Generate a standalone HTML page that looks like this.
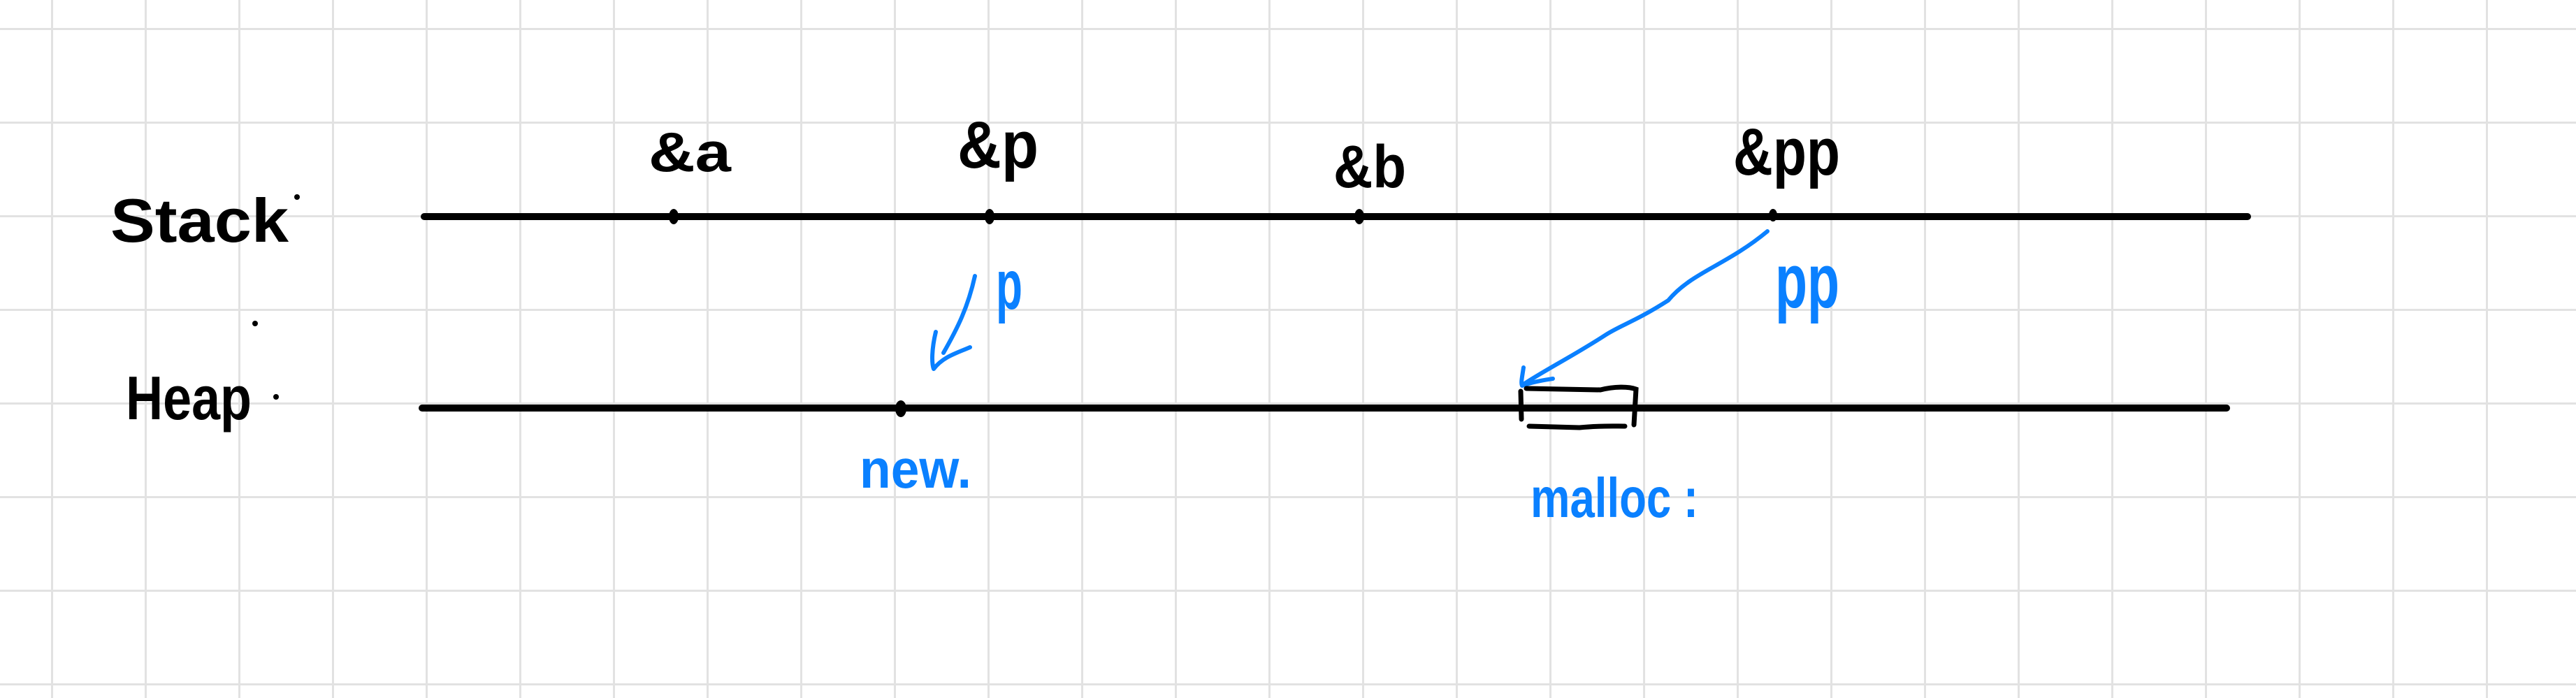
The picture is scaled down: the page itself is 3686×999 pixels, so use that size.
<!DOCTYPE html>
<html><head><meta charset="utf-8"><style>
html,body{margin:0;padding:0;background:#fff;}
svg{display:block;}
text{font-family:"Liberation Sans",sans-serif;font-weight:bold;}
</style></head><body>
<svg width="3686" height="999" viewBox="0 0 3686 999">
<g id="grid" stroke="#e2e2e2" stroke-width="3"></g>
<script>
var g=document.getElementById('grid');
for(var x=74.5;x<3686;x+=134){var l=document.createElementNS('http://www.w3.org/2000/svg','line');l.setAttribute('x1',x);l.setAttribute('x2',x);l.setAttribute('y1',0);l.setAttribute('y2',999);


g.appendChild(l);}
for(var y=41.5;y<999;y+=134){var l=document.createElementNS('http://www.w3.org/2000/svg','line');l.setAttribute('y1',y);l.setAttribute('y2',y);l.setAttribute('x1',0);l.setAttribute('x2',3686);


g.appendChild(l);}
</script>
<text x="158" y="346" font-size="88" textLength="255" lengthAdjust="spacingAndGlyphs">Stack</text>
<circle cx="425" cy="282" r="4" fill="#000"/>
<text x="180" y="600" font-size="88" textLength="180" lengthAdjust="spacingAndGlyphs">Heap</text>
<circle cx="365" cy="463" r="4" fill="#000"/>
<circle cx="395" cy="568" r="4" fill="#000"/>
<line x1="607" y1="310" x2="3216" y2="310" stroke="#000" stroke-width="10" stroke-linecap="round"/>
<line x1="604" y1="584" x2="3186" y2="584" stroke="#000" stroke-width="10" stroke-linecap="round"/>
<g fill="#000">
<ellipse cx="964" cy="310" rx="7" ry="11"/>
<ellipse cx="1416" cy="310" rx="7" ry="11"/>
<ellipse cx="1945" cy="310" rx="7" ry="11"/>
<ellipse cx="2537" cy="308" rx="6" ry="9"/>
</g>
<ellipse cx="1289" cy="585" rx="8" ry="12" fill="#000"/>
<text x="928" y="245" font-size="80" textLength="118" lengthAdjust="spacingAndGlyphs">&amp;a</text>
<text x="1370" y="240" font-size="96" textLength="116" lengthAdjust="spacingAndGlyphs">&amp;p</text>
<text x="1908" y="268" font-size="86" textLength="104" lengthAdjust="spacingAndGlyphs">&amp;b</text>
<text x="2480" y="250" font-size="96" textLength="153" lengthAdjust="spacingAndGlyphs">&amp;pp</text>
<g stroke="#0a80ff" stroke-width="6" fill="none" stroke-linecap="round" stroke-linejoin="round">
<path d="M1395,395 C1385,440 1370,470 1350,505"/>
<path d="M1339,475 C1333,500 1333,520 1336,528 C1350,510 1370,505 1388,497"/>
<path d="M2529,331 C2470,380 2420,390 2387,430 C2340,460 2320,465 2298,479 C2250,510 2210,530 2180,550"/>
<path d="M2180,526 C2178,540 2176,548 2178,552 C2195,546 2210,544 2222,542"/>
</g>
<text x="1425" y="442" font-size="100" fill="#0a80ff" textLength="38" lengthAdjust="spacingAndGlyphs">p</text>
<text x="2540" y="440" font-size="110" fill="#0a80ff" textLength="92" lengthAdjust="spacingAndGlyphs">pp</text>
<g stroke="#000" stroke-width="7" fill="none" stroke-linecap="round">
<line x1="2176" y1="560" x2="2177" y2="600"/>
<path d="M2184,556 L2290,558 C2310,553 2330,553 2341,557 L2338,608"/>
<path d="M2188,610 L2260,612 C2290,609 2310,610 2325,610"/>
</g>
<text x="1230" y="698" font-size="78" fill="#0a80ff" textLength="160" lengthAdjust="spacingAndGlyphs">new.</text>
<text x="2190" y="740" font-size="80" fill="#0a80ff" textLength="240" lengthAdjust="spacingAndGlyphs">malloc :</text>
</svg>
</body></html>
